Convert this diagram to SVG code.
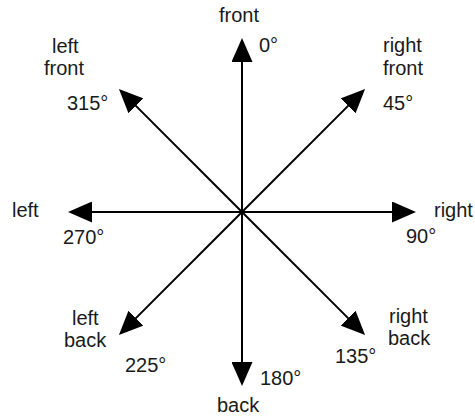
<svg xmlns="http://www.w3.org/2000/svg" width="475" height="419" viewBox="0 0 475 419">
<style>
text{font-family:"Liberation Sans",Arial,sans-serif;font-size:20px;fill:#1a1a1a}
.a{stroke:#000;stroke-width:2;fill:none;marker-end:url(#h)}
</style>
<defs>
<marker id="h" viewBox="0 0 24 21" refX="12" refY="10.5" markerWidth="24" markerHeight="21" markerUnits="userSpaceOnUse" orient="auto">
<path d="M0,0 L24,10.5 L0,21 z" fill="#000"/>
</marker>
</defs>
<rect width="475" height="419" fill="#fff"/>
<g id="connectors">
<line class="a" x1="242" y1="212" x2="242" y2="50"/>
<line class="a" x1="242" y1="212" x2="356.6" y2="97.4"/>
<line class="a" x1="242" y1="212" x2="404" y2="212"/>
<line class="a" x1="242" y1="212" x2="356.6" y2="326.6"/>
<line class="a" x1="242" y1="212" x2="242" y2="374"/>
<line class="a" x1="242" y1="212" x2="127.4" y2="326.6"/>
<line class="a" x1="242" y1="212" x2="80" y2="212"/>
<line class="a" x1="242" y1="212" x2="127.4" y2="97.4"/>
</g>
<g id="front"><text x="219" y="22">front</text><text x="259" y="52">0°</text></g>
<g id="right-front"><text x="383" y="52">right</text><text x="383" y="75">front</text><text x="383" y="110">45°</text></g>
<g id="right"><text x="434" y="217">right</text><text x="406" y="243">90°</text></g>
<g id="right-back"><text x="389" y="323">right</text><text x="388" y="345">back</text><text x="335" y="363">135°</text></g>
<g id="back"><text x="260" y="385">180°</text><text x="217" y="412">back</text></g>
<g id="left-back"><text x="72" y="325">left</text><text x="64" y="347">back</text><text x="125" y="372">225°</text></g>
<g id="left"><text x="12" y="217">left</text><text x="63" y="244">270°</text></g>
<g id="left-front"><text x="52" y="53">left</text><text x="44" y="75">front</text><text x="67" y="110">315°</text></g>
</svg>
